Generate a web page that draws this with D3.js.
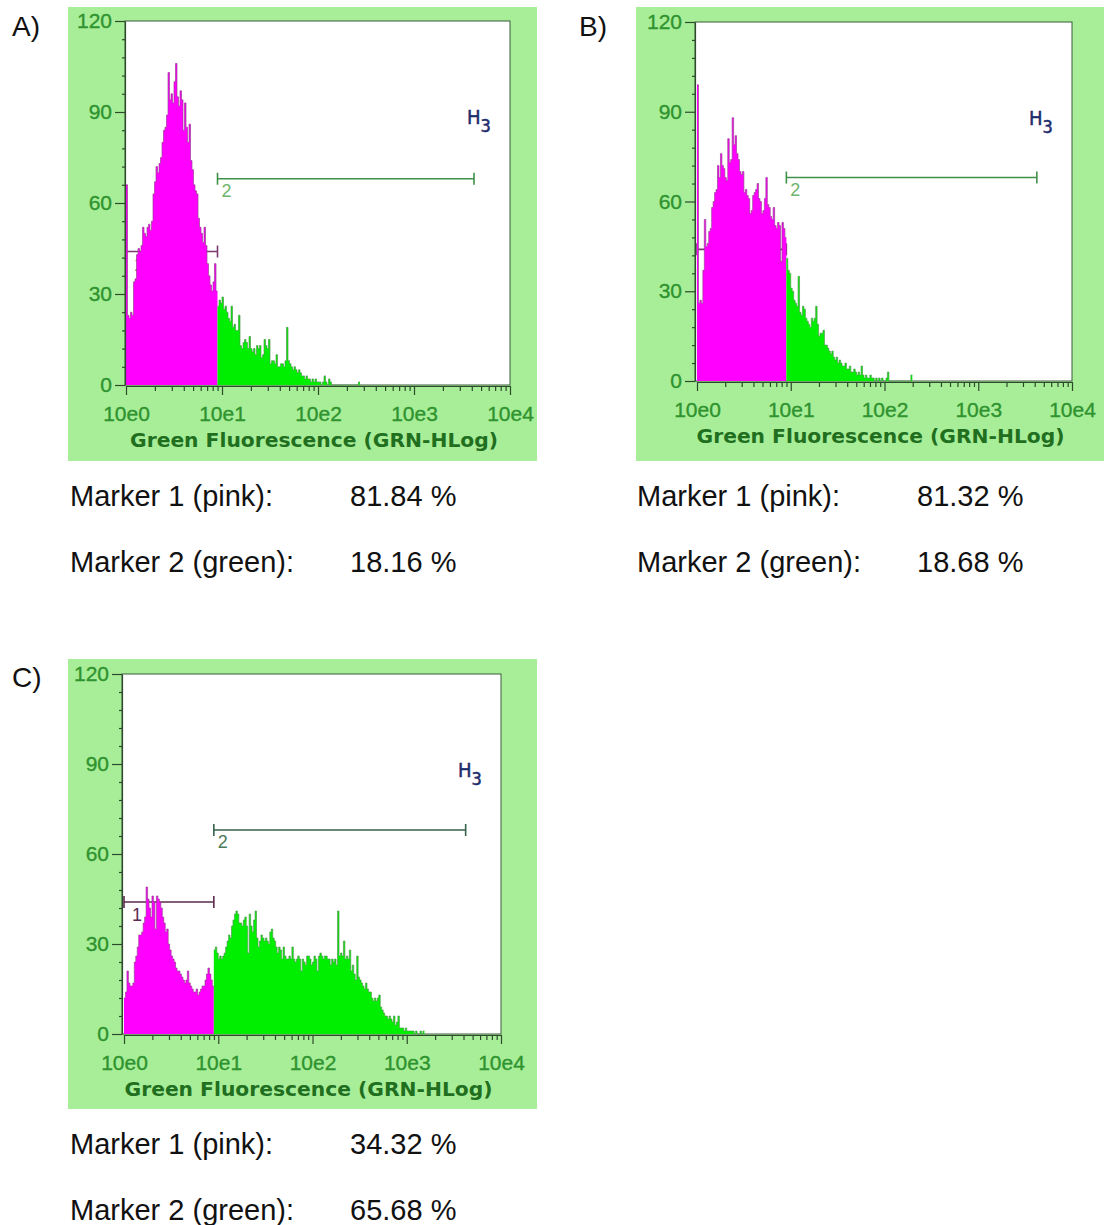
<!DOCTYPE html>
<html>
<head>
<meta charset="utf-8">
<script src="https://cdnjs.cloudflare.com/ajax/libs/d3/7.8.5/d3.min.js"></script>
<style>
  body { margin: 0; background: #fff; }
  svg { display: block; }
</style>
</head>
<body>
<svg id="canvas"></svg>
<script>
// Histogram counts, one value per channel (64 channels per decade), starting at 10e0
const countsA = [
  66, 23, 22, 24, 23, 34, 35, 43, 45, 44, 46, 52, 50, 49, 52, 53, 51, 54, 63, 67,
  72, 70, 73, 75, 80, 84, 85, 89, 103, 94, 96, 93, 100, 106, 95, 92, 97, 94, 84, 93,
  85, 80, 86, 74, 71, 66, 64, 63, 55, 52, 50, 47, 52, 46, 40, 36, 33, 31, 34, 40, 31,
  26, 28, 27, 29, 25, 26, 24, 22, 21, 26, 19, 20, 18, 18, 23, 13, 12, 14, 15, 14,
  12, 16, 12, 11, 12, 10, 13, 12, 13, 9, 10, 15, 13, 12, 15, 7, 8, 8, 7, 10,
  6, 6, 7, 7, 6, 8, 19, 8, 7, 6, 5, 6, 5, 4, 5, 4, 3, 3, 2, 3,
  2, 2, 1, 2, 1, 2, 1, 1, 1, 0, 1, 3, 1, 0, 2, 1,
  0, 0, 0, 0, 0, 0, 0, 0, 0, 0, 0, 0, 0, 0, 0, 0, 0, 0, 1
];
const countsB = [
  99, 26, 27, 26, 37, 54, 45, 46, 50, 51, 58, 60, 63, 64, 72, 68, 76, 72, 71, 68,
  67, 81, 73, 74, 88, 79, 82, 76, 74, 70, 69, 70, 63, 64, 62, 61, 56, 57, 62, 63,
  64, 66, 61, 60, 56, 57, 61, 68, 59, 58, 55, 54, 58, 52, 51, 53, 52, 40, 53, 51, 48,
  41, 37, 36, 31, 30, 27, 26, 25, 35, 23, 22, 25, 24, 21, 20, 19, 18, 21, 20, 21,
  25, 19, 15, 16, 16, 17, 12, 12, 11, 10, 9, 10, 8, 7, 8, 6, 7, 6, 5, 5,
  6, 4, 4, 5, 3, 3, 4, 3, 2, 3, 2, 5, 2, 1, 2, 1, 1, 2, 1, 1,
  0, 1, 0, 1, 0, 1, 0, 0, 1, 3,
  0, 0, 0, 0, 0, 0, 0, 0, 0, 0, 0, 0, 0, 0, 0, 2
];
const countsC = [
  12, 14, 21, 17, 16, 16, 17, 24, 26, 29, 33, 33, 34, 37, 39, 49, 45, 42, 39, 46,
  44, 35, 46, 45, 44, 42, 39, 37, 34, 35, 30, 28, 26, 25, 24, 22, 21, 21, 20, 19,
  18, 17, 18, 21, 17, 16, 15, 14, 14, 15, 13, 14, 15, 16, 16, 18, 20, 22, 20, 18, 16,
  28, 29, 27, 25, 26, 25, 26, 27, 29, 31, 33, 32, 36, 38, 40, 41, 40, 37, 37, 36,
  38, 39, 36, 27, 40, 36, 34, 38, 41, 32, 29, 31, 33, 32, 31, 32, 31, 30, 34, 35,
  32, 31, 29, 27, 29, 28, 25, 29, 26, 25, 25, 26, 25, 29, 25, 24, 25, 26, 25, 21,
  25, 24, 23, 26, 26, 25, 23, 24, 26, 25, 21, 26, 27, 26, 25, 26, 26, 25, 25, 23,
  25, 24, 25, 23, 41, 26, 27, 26, 31, 25, 26, 25, 28, 21, 23, 20, 18, 26, 19, 18,
  17, 16, 15, 17, 15, 14, 14, 12, 11, 12, 11, 12, 13, 9, 8, 7, 6, 6, 5, 6,
  5, 4, 6, 3, 4, 6, 2, 2, 2, 1, 2, 1, 1, 1, 1, 1, 0, 1, 0, 0,
  1, 0, 1
];

const panelNames = ["A)", "B)", "C)"];
const yTicks = [0, 30, 60, 90, 120];
const xTickValues = [1, 10, 100, 1000, 10000];
const xTickLabels = ["10e0", "10e1", "10e2", "10e3", "10e4"];
const axisTitle = "Green Fluorescence (GRN-HLog)";

// Markers: [first channel, last channel] and their level in counts
const marker1 = [0, 61];
const marker2 = [61, 232];
const marker1Level = 44;
const marker2Level = 68;
const marker1Pct = ["81.84 %", "81.32 %", "34.32 %"];
const marker2Pct = ["18.16 %", "18.68 %", "65.68 %"];
const gateChannel = 61;
const channelsPerDecade = 64;

// Where each panel sits on the page
const layout = [
  { counts: countsA, label: [12, 36], bg: [68, 7, 469, 454], x: [126, 510], y: [385, 21], axisX: 125,
    text: [70, 506], m1: "#7a3b6e", m2: "#3f9048", m2Label: "#6db56d" },
  { counts: countsB, label: [579, 36], bg: [636, 7, 468, 454], x: [697, 1072], y: [381, 22], axisX: 695,
    text: [637, 506], m1: "#7a3b6e", m2: "#3f9048", m2Label: "#6db56d" },
  { counts: countsC, label: [12, 687], bg: [68, 659, 469, 450], x: [124, 501], y: [1034, 674], axisX: 122,
    text: [70, 1154], m1: "#5b2a4e", m2: "#36624a", m2Label: "#4a7a5a" }
];

const width = 1104;
const height = 1225;
const svg = d3.select("#canvas")
              .attr("width", width)
              .attr("height", height);

const chan = c => Math.pow(10, c / channelsPerDecade);

layout.forEach((L, p) => {
  const g = svg.append("g");
  const xs = d3.scaleLog().domain([1, 10000]).range(L.x);
  const ys = d3.scaleLinear().domain([0, 120]).range(L.y);
  const y0 = ys(0);

  // panel letter
  svg.append("text")
     .attr("x", L.label[0]).attr("y", L.label[1])
     .attr("font-family", "'Liberation Sans', Arial, sans-serif")
     .attr("font-size", 28)
     .attr("fill", "#111")
     .text(panelNames[p]);

  // green background and white plot area
  g.append("rect")
   .attr("x", L.bg[0]).attr("y", L.bg[1])
   .attr("width", L.bg[2]).attr("height", L.bg[3])
   .attr("fill", "#a8ee98");
  g.append("rect")
   .attr("x", L.axisX).attr("y", ys(120))
   .attr("width", L.x[1] - L.axisX).attr("height", y0 - ys(120))
   .attr("fill", "#fff")
   .attr("stroke", "#3b5a3b")
   .attr("stroke-width", 1);

  // markers sit behind the histogram
  const drawMarker = (m, level, color, labelColor, name, lx, ly) => {
    const mx0 = xs(chan(m[0])), mx1 = xs(chan(m[1])), my = ys(level);
    g.append("line")
     .attr("x1", mx0).attr("x2", mx1).attr("y1", my).attr("y2", my)
     .attr("stroke", color).attr("stroke-width", 1.6);
    [mx0, mx1].forEach(cx => {
      g.append("line")
       .attr("x1", cx).attr("x2", cx).attr("y1", my - 6).attr("y2", my + 6)
       .attr("stroke", color).attr("stroke-width", 1.6);
    });
    g.append("text")
     .attr("x", mx0 + lx).attr("y", my + ly)
     .attr("font-family", "'Liberation Sans', Arial, sans-serif")
     .attr("font-size", 18)
     .attr("fill", labelColor)
     .text(name);
  };
  drawMarker(marker1, marker1Level, L.m1, L.m1, "1", 8, 19);
  drawMarker(marker2, marker2Level, L.m2, L.m2Label, "2", 4, 18);

  // histogram as stepped areas, pink inside marker 1, green beyond
  const seg = (from, to) => {
    const pts = [];
    for (let c = from; c < to; c++) pts.push([c, L.counts[c]]);
    pts.push([to, L.counts[to - 1]]);
    return pts;
  };
  const area = d3.area().curve(d3.curveStepAfter)
                 .x(d => xs(chan(d[0])))
                 .y0(y0)
                 .y1(d => ys(d[1]));
  const step = d3.line().curve(d3.curveStepAfter)
                 .x(d => xs(chan(d[0])))
                 .y(d => ys(d[1]));
  [[0, gateChannel, "#ff00ff", "#9a3a92"], [gateChannel, L.counts.length, "#00ee00", "#4c9a4c"]]
    .forEach(([from, to, fill, edge]) => {
      const pts = seg(from, to);
      g.append("path").attr("d", area(pts)).attr("fill", fill);
      g.append("path")
       .attr("d", step(pts))
       .attr("fill", "none")
       .attr("stroke", edge)
       .attr("stroke-width", 0.9)
       .attr("stroke-opacity", 0.75);
    });

  // y axis with minor ticks
  const yAxis = g.append("g")
                 .attr("transform", `translate(${L.axisX},0)`)
                 .call(d3.axisLeft(ys).tickValues(yTicks).tickSize(10).tickSizeOuter(0));
  g.append("g")
   .attr("transform", `translate(${L.axisX},0)`)
   .call(d3.axisLeft(ys).tickValues(d3.range(0, 121, 6).filter(v => v % 30)).tickSize(3).tickFormat(""))
   .select(".domain").remove();

  // x axis, log decades with minor ticks
  const minor = [];
  for (let k = 0; k < 4; k++) for (let m = 2; m < 10; m++) minor.push(m * Math.pow(10, k));
  const xAxis = g.append("g")
                 .attr("transform", `translate(0,${y0 + 1})`)
                 .call(d3.axisBottom(xs).tickValues(xTickValues).tickSize(9).tickSizeOuter(0)
                         .tickFormat((d, i) => xTickLabels[i]));
  g.append("g")
   .attr("transform", `translate(0,${y0 + 1})`)
   .call(d3.axisBottom(xs).tickValues(minor).tickSize(5).tickFormat(""))
   .select(".domain").remove();

  g.selectAll(".domain, .tick line").attr("stroke", "#2d4a2d").attr("stroke-width", 1.2);
  [yAxis.selectAll("text"), xAxis.selectAll("text")].forEach(t => {
    t.attr("font-family", "'Liberation Sans', Arial, sans-serif")
     .attr("font-size", 21)
     .attr("fill", "#2f932f")
     .attr("stroke", "#2f932f")
     .attr("stroke-width", 0.35);
  });
  yAxis.selectAll("text").attr("x", -13);
  xAxis.selectAll("text").attr("y", 35).attr("dy", 0);

  // axis title
  g.append("text")
   .attr("x", (L.x[0] + L.x[1]) / 2 - 4)
   .attr("y", y0 + 62)
   .attr("text-anchor", "middle")
   .attr("font-family", "'DejaVu Sans', Verdana, sans-serif")
   .attr("font-weight", "bold")
   .attr("font-size", 20)
   .attr("textLength", 368)
   .attr("lengthAdjust", "spacingAndGlyphs")
   .attr("fill", "#1f6f1f")
   .text(axisTitle);

  // H3 region label
  g.append("text")
   .attr("x", L.x[1] - 43).attr("y", L.y[1] + 103)
   .attr("font-family", "'DejaVu Sans Condensed', 'Liberation Sans Narrow', sans-serif")
   .attr("font-size", 20)
   .attr("fill", "#1d2c6b")
   .attr("stroke", "#1d2c6b")
   .attr("stroke-width", 0.5)
   .text("H")
   .append("tspan")
   .attr("dx", 0).attr("dy", 8)
   .attr("font-size", 18)
   .text("3");

  // marker percentages underneath
  [["Marker 1 (pink):", marker1Pct[p]], ["Marker 2 (green):", marker2Pct[p]]].forEach((row, r) => {
    const ty = L.text[1] + r * 66;
    svg.append("text")
       .attr("x", L.text[0]).attr("y", ty)
       .attr("font-family", "'Liberation Sans', Arial, sans-serif")
       .attr("font-size", 29).attr("fill", "#111")
       .text(row[0]);
    svg.append("text")
       .attr("x", L.text[0] + 280).attr("y", ty)
       .attr("font-family", "'Liberation Sans', Arial, sans-serif")
       .attr("font-size", 29).attr("fill", "#111")
       .text(row[1]);
  });
});
</script>
</body>
</html>
